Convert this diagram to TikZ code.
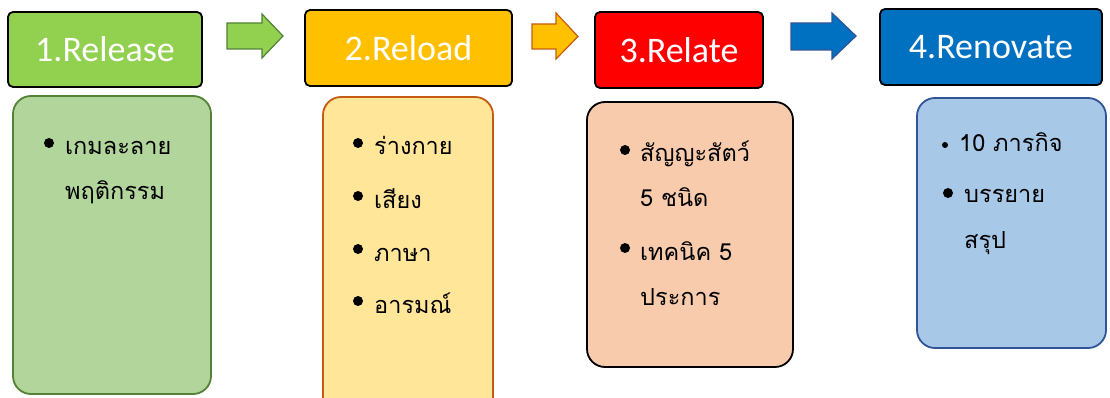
\documentclass[tikz,border=0pt]{standalone}
\usepackage{fontspec}
\setmainfont{Carlito}
\newfontfamily\thaifont[Script=Thai]{Loma}
\definecolor{relgreen}{HTML}{92D050}
\definecolor{relgreenline}{HTML}{538135}
\definecolor{reloadyellow}{HTML}{FFC000}
\definecolor{reloadline}{HTML}{C55A11}
\definecolor{relatered}{HTML}{FF0000}
\definecolor{renoblue}{HTML}{0070C0}
\definecolor{renoline}{HTML}{2F5597}
\definecolor{cardgreen}{HTML}{B1D59B}
\definecolor{cardyellow}{HTML}{FFE699}
\definecolor{cardpeach}{HTML}{F8CBAD}
\definecolor{cardblue}{HTML}{A7C8E7}
\begin{document}
\begin{tikzpicture}[x=1pt, y=-1pt,
	head/.style={draw=black, line width=1.8pt, rounded corners=5pt, text=white, inner sep=0pt, font=\fontsize{36}{42}\selectfont},
	card/.style={draw, line width=1.8pt, rounded corners=18pt, inner sep=0pt},
	item/.style={anchor=base west, inner sep=0pt, font=\thaifont\fontsize{23.5}{28}\selectfont},
	blk/.style={line width=1.2pt, line join=miter}]
	\useasboundingbox (0, 0) rectangle (1110, 398);
	% headers
	\node[head, fill=relgreen, minimum width=194pt, minimum height=75pt](h1) at (105, 49.5){1.Release};
	\node[head, fill=reloadyellow, minimum width=207pt, minimum height=76pt](h2) at (408.5, 48){2.Reload};
	\node[head, fill=relatered, minimum width=168pt, minimum height=76pt](h3) at (679, 50){3.Relate};
	\node[head, fill=renoblue, minimum width=222pt, minimum height=76pt](h4) at (991, 47){4.Renovate};
	% block arrows
	\draw[blk, draw=relgreenline, fill=relgreen](227, 23)--(262, 23)--(262, 14)--(283, 36)--(262, 58)--(262, 49)--(227, 49)--cycle;
	\draw[blk, draw=reloadline, fill=reloadyellow](532, 24)--(556, 24)--(556, 13)--(578, 36.5)--(556, 59)--(556, 49)--(532, 49)--cycle;
	\draw[blk, draw=renoline, fill=renoblue](791, 23)--(832, 23)--(832, 13)--(856, 36)--(832, 59)--(832, 50)--(791, 50)--cycle;
	% cards
	\node[card, draw=relgreenline, fill=cardgreen, minimum width=198pt, minimum height=298pt](c1) at (112, 245){};
	\node[card, draw=reloadline, fill=cardyellow, minimum width=170pt, minimum height=318pt](c2) at (408, 256){};
	\node[card, draw=black, fill=cardpeach, minimum width=206pt, minimum height=265pt](c3) at (690, 234.5){};
	\node[card, draw=renoline, fill=cardblue, minimum width=189pt, minimum height=250pt](c4) at (1011.5, 223){};
	% card 1
	\fill(49, 143)circle(5pt);
	\node[item](t11) at (65, 155){เกมละลาย};
	\node[item](t12) at (65, 200){พฤติกรรม};
	% card 2
	\fill(358, 143)circle(5pt);
	\node[item](t21) at (374, 155){ร่างกาย};
	\fill(358, 196)circle(5pt);
	\node[item](t22) at (374, 208){เสียง};
	\fill(358, 249)circle(5pt);
	\node[item](t23) at (374, 261){ภาษา};
	\fill(358, 301)circle(5pt);
	\node[item](t24) at (374, 313){อารมณ์};
	% card 3
	\fill(625, 150)circle(5pt);
	\node[item](t31) at (640, 162){สัญญะสัตว์};
	\node[item](t32) at (640, 207){5 ชนิด};
	\fill(625, 248)circle(5pt);
	\node[item](t33) at (640, 260){เทคนิค 5};
	\node[item](t34) at (640, 305){ประการ};
	% card 4
	\fill(945, 145)circle(3pt);
	\node[item](t41) at (959, 152){10 ภารกิจ};
	\fill(948, 193)circle(5pt);
	\node[item](t42) at (964, 203){บรรยาย};
	\node[item](t43) at (964, 248){สรุป};
\end{tikzpicture}
\end{document}
